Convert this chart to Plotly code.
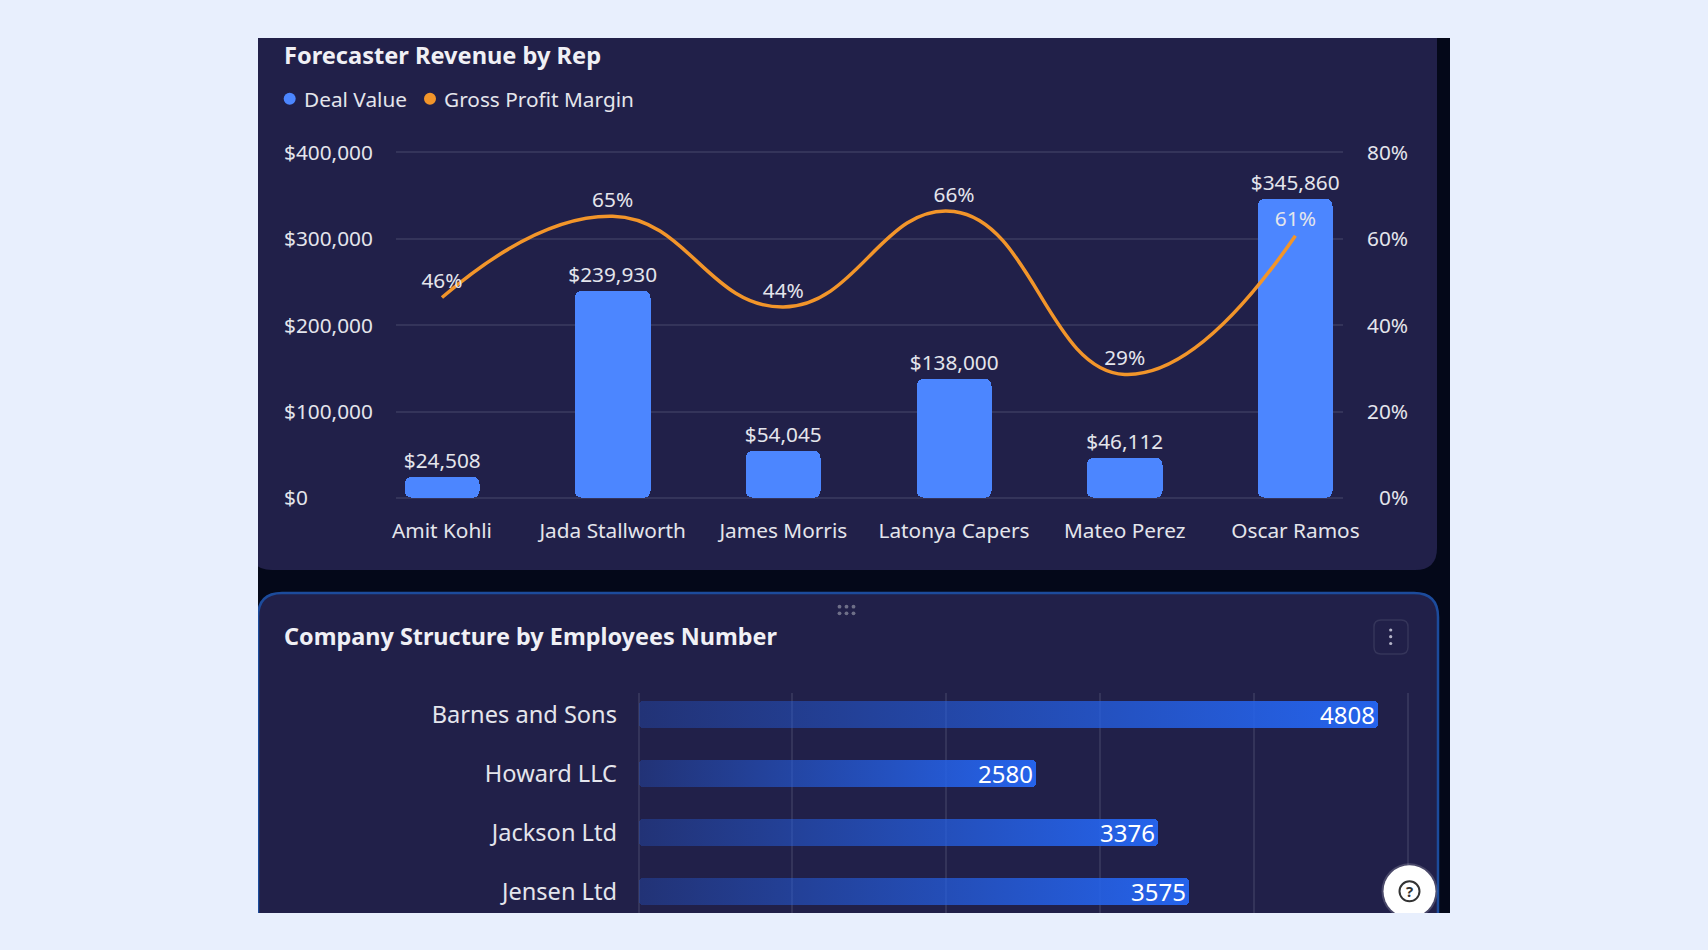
#!/usr/bin/env python3
"""Forecaster revenue and company structure dashboard panels."""

import plotly.graph_objects as go

W, H = 1708, 950
FONT = "Noto Sans"

PAGE_BG = "#E8EFFD"
FRAME_BG = "#040819"
PANEL_BG = "#212049"
GRID = "#34345A"
TEXT = "#E4E5EC"

# top chart
reps = ["Amit Kohli", "Jada Stallworth", "James Morris", "Latonya Capers", "Mateo Perez", "Oscar Ramos"]
deal_value = [24508, 239930, 54045, 138000, 46112, 345860]
gross_margin = [46.4, 65.2, 44.2, 66.3, 28.6, 60.7]
deal_ticks = [0, 100000, 200000, 300000, 400000]
margin_ticks = [0, 20, 40, 60, 80]

# bottom chart
companies = ["Barnes and Sons", "Howard LLC", "Jackson Ltd", "Jensen Ltd"]
employees = [4808, 2580, 3376, 3575]
employee_ticks = [0, 1000, 2000, 3000, 4000, 5000]


def px(x):
    return x / W


def py(y):
    return 1 - y / H


def rounded_path(x0, y0, x1, y1, tl=0, tr=0, br=0, bl=0):
    return (
        f"M {px(x0 + tl)} {py(y0)} L {px(x1 - tr)} {py(y0)} "
        f"Q {px(x1)} {py(y0)} {px(x1)} {py(y0 + tr)} L {px(x1)} {py(y1 - br)} "
        f"Q {px(x1)} {py(y1)} {px(x1 - br)} {py(y1)} L {px(x0 + bl)} {py(y1)} "
        f"Q {px(x0)} {py(y1)} {px(x0)} {py(y1 - bl)} L {px(x0)} {py(y0 + tl)} "
        f"Q {px(x0)} {py(y0)} {px(x0 + tl)} {py(y0)} Z"
    )


def rect(x0, y0, x1, y1, color, layer="below"):
    return dict(type="rect", xref="paper", yref="paper", x0=px(x0), x1=px(x1),
                y0=py(y1), y1=py(y0), fillcolor=color, line_width=0, layer=layer)


def dot(cx, cy, r, color, layer="above", line=None):
    return dict(type="circle", xref="paper", yref="paper", x0=px(cx - r), x1=px(cx + r),
                y0=py(cy + r), y1=py(cy - r), fillcolor=color, layer=layer,
                line=line or dict(width=0))


def note(x, y, text, size=20.8, color=TEXT, anchor="left"):
    return dict(xref="paper", yref="paper", x=px(x), y=py(y), text=text, showarrow=False,
                xanchor=anchor, yanchor="middle", font=dict(family=FONT, size=size, color=color))


fig = go.Figure()

fig.add_trace(go.Bar(
    x=reps, y=deal_value, xaxis="x", yaxis="y", width=0.44,
    marker=dict(color="#4C86FF", line_width=0),
    text=[f"${v:,}" for v in deal_value], textposition="outside", cliponaxis=False,
    constraintext="none", textfont=dict(family=FONT, size=20.8, color=TEXT),
    name="Deal Value",
))
fig.add_trace(go.Scatter(
    x=reps, y=gross_margin, xaxis="x", yaxis="y2", mode="lines+markers+text",
    line=dict(color="#F2952A", width=3.5, shape="spline", smoothing=1.3),
    marker=dict(size=5, opacity=0),
    text=[f"{v:.0f}%" for v in gross_margin], textposition="top center", cliponaxis=False,
    textfont=dict(family=FONT, size=20.8, color=TEXT),
    name="Gross Profit Margin",
))
fig.add_trace(go.Bar(
    x=employees, y=companies, xaxis="x3", yaxis="y3", orientation="h", width=0.464,
    marker=dict(color="#2563EB", line_width=0),
    text=[str(v) for v in employees], textposition="inside", insidetextanchor="end",
    constraintext="none", textangle=0,
    textfont=dict(family=FONT, size=24, color="#FFFFFF"),
    insidetextfont=dict(family=FONT, size=24, color="#FFFFFF"),
    name="Employees",
))

shapes = [
    rect(258, 38, 1450, 913, FRAME_BG),
    dict(type="path", xref="paper", yref="paper", layer="below", line_width=0, fillcolor=PANEL_BG,
         path=rounded_path(250, 30, 1437, 570, br=22, bl=22)),
    dict(type="path", xref="paper", yref="paper", layer="below", fillcolor=PANEL_BG,
         line=dict(color="#1C4B9C", width=2.5),
         path=rounded_path(258, 593, 1438, 960, tl=24, tr=24)),
    # menu button
    dict(type="path", xref="paper", yref="paper", layer="below", fillcolor=PANEL_BG,
         line=dict(color="#35355A", width=1.5),
         path=rounded_path(1374, 620, 1408, 654, tl=7, tr=7, br=7, bl=7)),
    dot(1390.7, 630, 1.6, "#B4B4C8"), dot(1390.7, 636.7, 1.6, "#B4B4C8"), dot(1390.7, 643.5, 1.6, "#B4B4C8"),
    # legend dots
    dot(289.7, 98.7, 6, "#4C86FF"), dot(430, 98.7, 6, "#F2952A"),
    # help button, shadow then face
    dot(1409.5, 891.3, 28, "rgba(255,255,255,0.18)"),
    dot(1409.5, 891.3, 26, "#FFFFFF"),
    dot(1409.5, 891.3, 10, "#FFFFFF", line=dict(color="#333333", width=2)),
    # page background around the frame, clips what runs past it
    rect(0, 913, W, H, PAGE_BG, layer="above"),
    rect(0, 0, 258, H, PAGE_BG, layer="above"),
    rect(0, 0, W, 38, PAGE_BG, layer="above"),
    rect(1450, 0, W, H, PAGE_BG, layer="above"),
]
# drag handle
for hx in (839.5, 846.5, 853.5):
    for hy in (606.7, 613.3):
        shapes.append(dot(hx, hy, 1.9, "#6E6F88"))

annotations = [
    note(282, 55, "<b>Forecaster Revenue by Rep</b>", size=23.6, color="#F0F0F5"),
    note(282, 636, "<b>Company Structure by Employees Number</b>", size=23.4, color="#F0F0F5"),
    note(302, 99, "Deal Value"),
    note(442, 99, "Gross Profit Margin"),
    note(1409.5, 891.3, "<b>?</b>", size=15, color="#333333", anchor="center"),
]
# left axis labels sit flush left and right axis labels flush right
for v in deal_ticks:
    annotations.append(dict(xref="paper", yref="y", x=px(282), y=v, text=f"${v:,}", showarrow=False, yshift=0.5,
                            xanchor="left", yanchor="middle", font=dict(family=FONT, size=20.8, color=TEXT)))
for v in margin_ticks:
    annotations.append(dict(xref="paper", yref="y2", x=px(1410), y=v, text=f"{v}%", showarrow=False, yshift=0.5,
                            xanchor="right", yanchor="middle", font=dict(family=FONT, size=20.8, color=TEXT)))

# axes run a pixel and a half past the end ticks, plotly drops gridlines sitting right on the edge
fig.update_layout(
    width=W, height=H,
    margin=dict(l=0, r=0, t=0, b=0, autoexpand=False),
    paper_bgcolor=PAGE_BG, plot_bgcolor="rgba(0,0,0,0)",
    showlegend=False, bargap=0, barmode="overlay",
    shapes=shapes, annotations=annotations,
    xaxis=dict(domain=[px(395.7), px(1342.7)], anchor="y", range=[-0.271, 5.277], type="category",
               categoryorder="array", categoryarray=reps, showgrid=False, zeroline=False,
               ticks="", ticklabelstandoff=17, tickfont=dict(family=FONT, size=20.8, color=TEXT)),
    yaxis=dict(domain=[py(499.5), py(150.8)], anchor="x", range=[-1800, 401800], tickvals=deal_ticks,
               showticklabels=False, gridcolor=GRID, gridwidth=1.5, zeroline=False),
    yaxis2=dict(domain=[py(499.5), py(150.8)], anchor="x", overlaying="y", side="right", range=[-0.36, 80.36],
                tickvals=margin_ticks, showticklabels=False, showgrid=False, zeroline=False),
    xaxis3=dict(domain=[px(637), px(1409.5)], anchor="y3", range=[-10, 5010], tickvals=employee_ticks,
                showticklabels=False, gridcolor=GRID, gridwidth=1.5, zeroline=False),
    yaxis3=dict(domain=[py(913), py(693)], anchor="x3", type="category", categoryorder="array",
                categoryarray=companies, range=[3.368, -0.361], showgrid=False, zeroline=False,
                ticks="", ticklabelstandoff=19, tickfont=dict(family=FONT, size=23.6, color=TEXT)),
)

# plotly only rounds the far end of a bar and has no gradient fill, so both get done once it is drawn
post_script = """
document.body.style.margin = '0';
document.body.style.overflow = 'hidden';
var gd = document.getElementById('{plot_id}');
function roundBar(p, r) {
    var b = p.getBBox();
    var x0 = b.x, y0 = b.y, x1 = b.x + b.width, y1 = b.y + b.height;
    p.setAttribute('d', 'M' + (x0 + r) + ',' + y0 + 'H' + (x1 - r) + 'Q' + x1 + ',' + y0 + ' ' + x1 + ',' + (y0 + r)
        + 'V' + (y1 - r) + 'Q' + x1 + ',' + y1 + ' ' + (x1 - r) + ',' + y1 + 'H' + (x0 + r)
        + 'Q' + x0 + ',' + y1 + ' ' + x0 + ',' + (y1 - r) + 'V' + (y0 + r) + 'Q' + x0 + ',' + y0 + ' ' + (x0 + r) + ',' + y0 + 'Z');
}
function paintBars() {
    var defs = gd.querySelector('.main-svg defs');
    if (!document.getElementById('barFade')) {
        var ns = 'http://www.w3.org/2000/svg';
        var g = document.createElementNS(ns, 'linearGradient');
        g.setAttribute('id', 'barFade');
        [['0%', 0.28], ['100%', 1]].forEach(function (s) {
            var stop = document.createElementNS(ns, 'stop');
            stop.setAttribute('offset', s[0]);
            stop.setAttribute('stop-color', '#2563EB');
            stop.setAttribute('stop-opacity', s[1]);
            g.appendChild(stop);
        });
        defs.appendChild(g);
    }
    gd.querySelectorAll('.subplot.xy .bars .point path').forEach(function (p) {
        roundBar(p, 8);
    });
    gd.querySelectorAll('.subplot.x3y3 .bars .point path').forEach(function (p) {
        roundBar(p, 4);
        p.style.fill = 'url(#barFade)';
        p.style.fillOpacity = 1;
    });
}
paintBars();
gd.on('plotly_afterplot', paintBars);
"""

fig.write_html("out.html", config=dict(displayModeBar=False), post_script=post_script)
